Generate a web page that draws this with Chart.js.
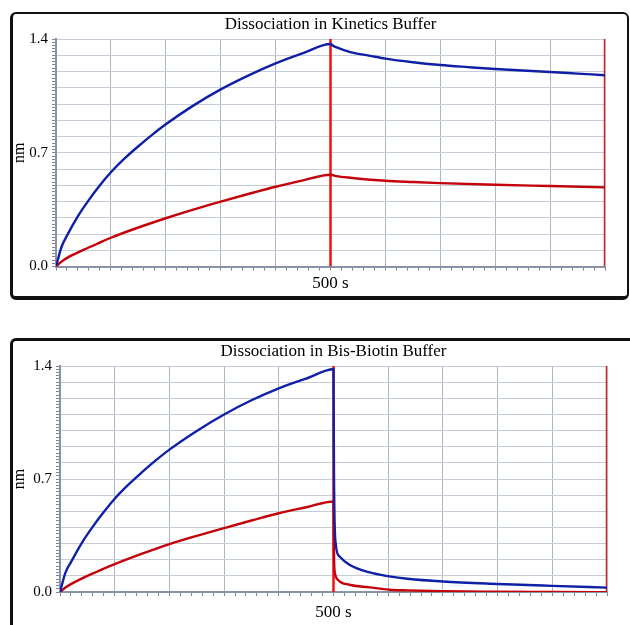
<!DOCTYPE html>
<html>
<head>
<meta charset="utf-8">
<script src="https://cdn.jsdelivr.net/npm/chart.js@4.4.1/dist/chart.umd.min.js"></script>
<style>
  html, body { margin: 0; padding: 0; background: #fff; overflow: hidden; }
  body { width: 630px; height: 625px; position: relative; }
  .frame { position: absolute; box-sizing: border-box; border: 2px solid #111; border-radius: 6px; }
  #frame1 { left: 10px; top: 12px; width: 619px; height: 288px; border-left-width: 3px; border-bottom-width: 4px; }
  #frame2 { left: 10px; top: 338px; width: 660px; height: 320px; border-width: 3px; }
  canvas { position: absolute; }
  #plot1 { left: 10px; top: 14px; }
  #plot2 { left: 10px; top: 340px; }
</style>
</head>
<body>
<div class="frame" id="frame1"></div>
<div class="frame" id="frame2"></div>
<canvas id="plot1" width="612" height="284"></canvas>
<canvas id="plot2" width="620" height="285"></canvas>
<script>
var titles = ["Dissociation in Kinetics Buffer", "Dissociation in Bis-Biotin Buffer"];
var yTickLabels = ["0.0", "0.7", "1.4"];
var xTickValue = 500;
var xTickText = "500 s";
var stepTimes = [500, 1000];   // red step markers (s)

// Kinetics buffer panel
var kinBlueTime = [0, 10, 20, 40, 60, 80, 100, 125, 150, 175, 200, 250, 300, 350, 400, 450, 500, 505, 516, 540, 570, 600, 650, 700, 750, 800, 850, 900, 950, 1000];
var kinBlueNm   = [0, 0.12, 0.19, 0.31, 0.41, 0.50, 0.58, 0.665, 0.74, 0.81, 0.875, 0.99, 1.09, 1.175, 1.25, 1.313, 1.369, 1.358, 1.343, 1.316, 1.298, 1.279, 1.257, 1.24, 1.227, 1.215, 1.206, 1.197, 1.187, 1.177];
var kinRedTime  = [0, 10, 25, 50, 75, 100, 150, 200, 250, 300, 350, 400, 450, 500, 510, 540, 600, 650, 700, 800, 900, 1000];
var kinRedNm    = [0, 0.03, 0.062, 0.102, 0.14, 0.177, 0.24, 0.297, 0.35, 0.399, 0.446, 0.491, 0.53, 0.565, 0.556, 0.545, 0.528, 0.52, 0.513, 0.503, 0.495, 0.487];

// Bis-Biotin buffer panel
var bisBlueTime = [0, 10, 20, 40, 60, 80, 100, 125, 150, 175, 200, 250, 300, 350, 400, 450, 500, 500.5, 501, 504, 511, 529, 566, 602, 635, 700, 800, 900, 1000];
var bisBlueNm   = [0, 0.12, 0.185, 0.305, 0.405, 0.495, 0.578, 0.665, 0.742, 0.815, 0.882, 0.998, 1.10, 1.188, 1.262, 1.322, 1.38, 1.0, 0.676, 0.30, 0.22, 0.169, 0.121, 0.097, 0.082, 0.065, 0.05, 0.038, 0.027];
var bisRedTime  = [0, 10, 25, 50, 75, 100, 150, 200, 250, 300, 350, 400, 450, 500, 501, 503, 508, 529, 566, 602, 635, 700, 800, 900, 1000];
var bisRedNm    = [0, 0.028, 0.058, 0.10, 0.137, 0.172, 0.237, 0.297, 0.348, 0.396, 0.443, 0.488, 0.525, 0.561, 0.20, 0.11, 0.076, 0.045, 0.029, 0.014, 0.01, 0.005, 0.002, 0.0, -0.002];

var serif = "'Liberation Serif', 'Times New Roman', serif";
var blue = "#1020a6";
var red = "#c4000a";
var markRed = "#ee1111";

function pts(t, v) {
  return t.map(function(x, i){ return {x: x, y: v[i]}; });
}

function markerSets() {
  return stepTimes.map(function(t){
    return {
      data: [{x: t, y: 0}, {x: t, y: 1.4}],
      borderColor: markRed, borderWidth: 2.5, pointRadius: 0, order: 3
    };
  });
}

function makeChart(id, title, blueData, redData, lay) {
  var ctx = document.getElementById(id);
  return new Chart(ctx, {
    type: 'line',
    data: {
      datasets: [
        { data: blueData, borderColor: blue, borderWidth: 2.4, pointRadius: 0, cubicInterpolationMode: 'monotone', order: 1 },
        { data: redData, borderColor: red, borderWidth: 2.4, pointRadius: 0, cubicInterpolationMode: 'monotone', order: 2 }
      ].concat(markerSets())
    },
    options: {
      responsive: false,
      animation: false,
      layout: { padding: { left: 0, right: lay.right, top: 0, bottom: 0 } },
      plugins: {
        legend: { display: false },
        tooltip: { enabled: false },
        title: {
          display: true, text: title, color: '#000', fullSize: false,
          font: { family: serif, size: 17, weight: 'normal' },
          padding: { top: lay.titleTop, bottom: lay.titleBottom }
        }
      },
      scales: {
        x: {
          type: 'linear', min: 0, max: 1000,
          afterFit: function(s){ s.height = lay.xHeight; },
          ticks: {
            stepSize: 20, maxTicksLimit: 100, autoSkip: false, maxRotation: 0,
            color: '#000', padding: lay.xPad,
            font: { family: serif, size: 17 },
            callback: function(v){ return Math.abs(v - xTickValue) < 1e-6 ? xTickText : ''; }
          },
          grid: {
            color: function(c){ return Math.round(c.tick.value) % 100 === 0 ? '#aeb6c4' : 'rgba(0,0,0,0)'; },
            tickColor: '#7d8696', tickLength: 4
          },
          border: { color: '#8a93a3', width: 2 }
        },
        y: {
          min: 0, max: 1.4,
          afterFit: function(s){ s.width = lay.yWidth; },
          title: { display: true, text: 'nm', color: '#000', font: { family: serif, size: 16 }, padding: { top: 0, bottom: 0 } },
          ticks: {
            stepSize: 0.02, maxTicksLimit: 100, autoSkip: false,
            color: '#000', padding: 4,
            font: { family: serif, size: 15 },
            callback: function(v){
              var s = v.toFixed(1);
              return (Math.abs(v - Number(s)) < 1e-6 && yTickLabels.indexOf(s) >= 0) ? s : '';
            }
          },
          grid: {
            color: function(c){ return Math.round(c.tick.value * 100) % 10 === 0 ? '#c6cdd8' : 'rgba(0,0,0,0)'; },
            tickColor: '#7d8696', tickLength: 4
          },
          border: { color: '#8a93a3', width: 2 }
        }
      }
    }
  });
}

makeChart('plot1', titles[0], pts(kinBlueTime, kinBlueNm), pts(kinRedTime, kinRedNm),
  { right: 17, titleTop: 0, titleBottom: 4.6, xHeight: 31.5, xPad: 3, yWidth: 46 });
makeChart('plot2', titles[1], pts(bisBlueTime, bisBlueNm), pts(bisRedTime, bisRedNm),
  { right: 23, titleTop: 1.5, titleBottom: 4.1, xHeight: 33, xPad: 6.5, yWidth: 50 });
</script>
</body>
</html>
